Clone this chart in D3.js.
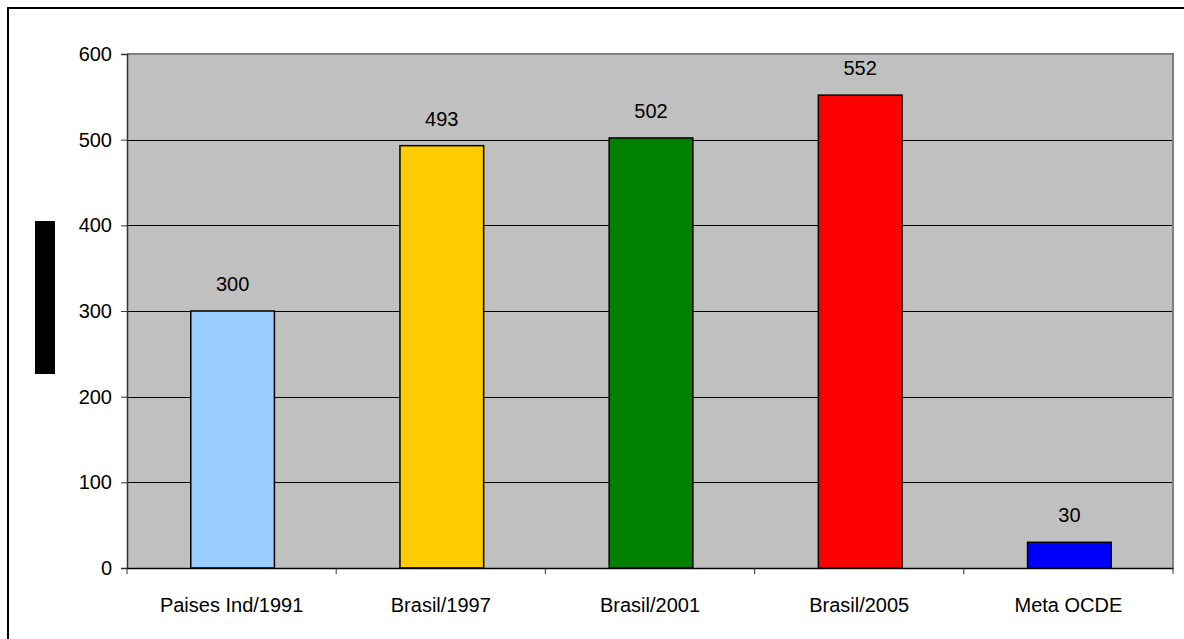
<!DOCTYPE html>
<html>
<head>
<meta charset="utf-8">
<script src="https://cdn.jsdelivr.net/npm/d3@7"></script>
<style>
  html, body { margin: 0; padding: 0; background: #fff; }
  svg { display: block; font-family: "Liberation Sans", Arial, sans-serif; }
</style>
</head>
<body>
<svg id="chart" width="1184" height="639"></svg>
<script>
const categories = ["Paises Ind/1991", "Brasil/1997", "Brasil/2001", "Brasil/2005", "Meta OCDE"];
const values = [300, 493, 502, 552, 30];
const barColors = ["#99CCFF", "#FFCC00", "#008000", "#FF0000", "#0000FF"];
const yTicks = [0, 100, 200, 300, 400, 500, 600];

(function () {
const svg = d3.select("#chart");
const pLeft = 127, pRight = 1173, pTop = 54, pBottom = 568;
const fs = 20;

// outer chart border (extends past the viewport on right and bottom)
svg.append("rect").attr("x", 8).attr("y", 8).attr("width", 1300).attr("height", 800)
  .attr("fill", "none").attr("stroke", "#000").attr("stroke-width", 2);

const x = d3.scaleBand().domain(categories).range([pLeft, pRight]).paddingInner(0).paddingOuter(0);
const y = d3.scaleLinear().domain([0, 600]).range([pBottom, pTop]);

// plot area
svg.append("rect").attr("x", pLeft).attr("y", pTop).attr("width", pRight - pLeft).attr("height", pBottom - pTop)
  .attr("fill", "#C0C0C0");

// gridlines
svg.append("g").selectAll("line").data(yTicks.filter(d => d > 0 && d < 600)).join("line")
  .attr("x1", pLeft).attr("x2", pRight)
  .attr("y1", d => Math.round(y(d)) + 0.5).attr("y2", d => Math.round(y(d)) + 0.5)
  .attr("stroke", "#000").attr("stroke-width", 1);

// plot border (top & right gray)
svg.append("path")
  .attr("d", `M${pLeft},${pTop} H${pRight} V${pBottom}`)
  .attr("fill", "none").attr("stroke", "#808080").attr("stroke-width", 2);

// bars
const bw = x.bandwidth() * 0.4;
svg.append("g").selectAll("rect").data(categories).join("rect")
  .attr("x", d => x(d) + x.bandwidth() / 2 - bw / 2 + 1)
  .attr("y", (d, i) => y(values[i]))
  .attr("width", bw)
  .attr("height", (d, i) => y(0) - y(values[i]))
  .attr("fill", (d, i) => barColors[i])
  .attr("stroke", "#000").attr("stroke-width", 1.5);

// value labels
svg.append("g").selectAll("text").data(categories).join("text")
  .attr("x", d => x(d) + x.bandwidth() / 2 + 1)
  .attr("y", (d, i) => y(values[i]) - 20)
  .attr("text-anchor", "middle")
  .attr("font-size", fs)
  .attr("fill", "#000")
  .text((d, i) => values[i]);

// y axis
const yAxis = d3.axisLeft(y).tickValues(yTicks).tickSize(6).tickPadding(9);
const gy = svg.append("g").attr("transform", `translate(${pLeft},0)`).call(yAxis);
gy.select(".domain").attr("stroke", "#333").attr("stroke-width", 1.5);
gy.selectAll(".tick line").attr("stroke", "#333");
gy.selectAll("text").attr("font-size", fs).attr("font-family", '"Liberation Sans", Arial, sans-serif').attr("fill", "#000");

// x axis
const xAxis = d3.axisBottom(x).tickSize(0).tickPadding(30);
const gx = svg.append("g").attr("transform", `translate(0,${pBottom})`).call(xAxis);
gx.select(".domain").attr("stroke", "#000").attr("stroke-width", 1.5);
gx.selectAll("text").attr("font-size", fs).attr("font-family", '"Liberation Sans", Arial, sans-serif').attr("fill", "#000");
// x tick marks at category boundaries
gx.append("g").selectAll("line").data(categories.concat(["__end"])).join("line")
  .attr("x1", (d, i) => pLeft + i * x.bandwidth()).attr("x2", (d, i) => pLeft + i * x.bandwidth())
  .attr("y1", 0).attr("y2", 6).attr("stroke", "#333").attr("stroke-width", 1);

// blacked-out y-axis title
svg.append("rect").attr("x", 35).attr("y", 221).attr("width", 20).attr("height", 153).attr("fill", "#000");
})();
</script>
</body>
</html>
